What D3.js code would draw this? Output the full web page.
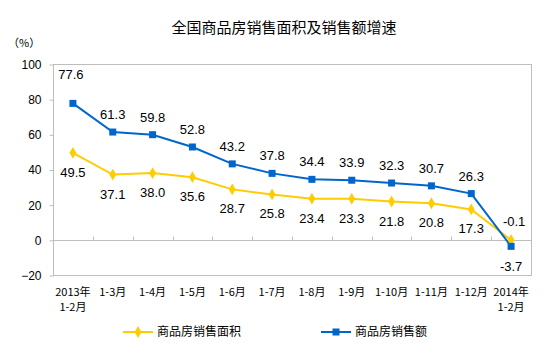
<!DOCTYPE html>
<html>
<head>
<meta charset="utf-8">
<script src="https://cdn.jsdelivr.net/npm/d3@7"></script>
<style>
  body { margin: 0; background: #fff; }
  text { font-family: "Liberation Sans", Arial, "Noto Sans CJK SC", sans-serif; }
  .cjk { font-family: "Noto Sans CJK SC", sans-serif; }
</style>
</head>
<body>
<script>
// data
var CAT_LINE1 = ["2013年", "1-3月", "1-4月", "1-5月", "1-6月", "1-7月",
    "1-8月", "1-9月", "1-10月", "1-11月", "1-12月", "2014年"];
var CAT_LINE2 = ["1-2月", "", "", "", "", "", "", "", "", "", "", "1-2月"];
var AREA = [49.5, 37.1, 38.0, 35.6, 28.7, 25.8, 23.4, 23.3, 21.8, 20.8, 17.3, -0.1];
var SALES = [77.6, 61.3, 59.8, 52.8, 43.2, 37.8, 34.4, 33.9, 32.3, 30.7, 26.3, -3.7];
var Y_TICKS = [-20, 0, 20, 40, 60, 80, 100];

var W = 554, H = 353;
var MARGINS = {top: 64, bottom: 78, left: 53, right: 23};
var YELLOW = "#FFCC00", BLUE = "#0066CC";

var svg = d3.select("body").append("svg")
    .attr("width", W)
    .attr("height", H);

// scales
var xScale = d3.scalePoint()
    .domain(d3.range(CAT_LINE1.length))
    .range([MARGINS.left, W - MARGINS.right])
    .padding(0.5);
var step = xScale.step();

var yScale = d3.scaleLinear()
    .domain([-20, 100])
    .range([H - MARGINS.bottom, MARGINS.top]);

// title
svg.append("text")
    .attr("class", "cjk")
    .attr("x", 284).attr("y", 33)
    .attr("text-anchor", "middle")
    .style("font-size", "15px")
    .text("全国商品房销售面积及销售额增速");

svg.append("text")
    .attr("class", "cjk")
    .attr("x", 8).attr("y", 47)
    .style("font-size", "11px")
    .text("（%）");

// frame
svg.append("rect")
    .attr("x", MARGINS.left + 0.5)
    .attr("y", yScale(100) + 0.5)
    .attr("width", W - MARGINS.left - MARGINS.right)
    .attr("height", yScale(-20) - yScale(100))
    .attr("fill", "none")
    .attr("stroke", "#BDBDBD");

// y axis
var yAxis = d3.axisLeft(yScale).tickValues(Y_TICKS).tickSize(4).tickPadding(8);
var gy = svg.append("g")
    .attr("transform", "translate(" + (MARGINS.left + 0.5) + ",0.5)")
    .call(yAxis);
gy.select(".domain").remove();
gy.selectAll(".tick line").attr("stroke", "#BDBDBD");
gy.selectAll(".tick text")
    .style("font-size", "12px")
    .attr("fill", "#000");

// zero line with category ticks
var y0 = Math.round(yScale(0)) + 0.5;
svg.append("line")
    .attr("x1", MARGINS.left).attr("x2", W - MARGINS.right)
    .attr("y1", y0).attr("y2", y0)
    .attr("stroke", "#BDBDBD");
svg.selectAll(".ctick")
    .data(d3.range(1, CAT_LINE1.length))
    .enter().append("line")
    .attr("x1", function (d) { return Math.round(xScale(d) - step / 2) + 0.5; })
    .attr("x2", function (d) { return Math.round(xScale(d) - step / 2) + 0.5; })
    .attr("y1", y0 - 4).attr("y2", y0)
    .attr("stroke", "#BDBDBD");

// x labels
svg.selectAll(".xlab1")
    .data(CAT_LINE1)
    .enter().append("text")
    .attr("class", "cjk")
    .attr("text-anchor", "middle")
    .style("font-size", "11px")
    .attr("x", function (d, i) { return xScale(i); })
    .attr("y", 296)
    .text(function (d) { return d; });
svg.selectAll(".xlab2")
    .data(CAT_LINE2)
    .enter().append("text")
    .attr("class", "cjk")
    .attr("text-anchor", "middle")
    .style("font-size", "11px")
    .attr("x", function (d, i) { return xScale(i); })
    .attr("y", 311)
    .text(function (d) { return d; });

// lines
var line = d3.line()
    .x(function (d, i) { return xScale(i); })
    .y(function (d) { return yScale(d); });

svg.append("path").datum(AREA)
    .attr("d", line).attr("fill", "none")
    .attr("stroke", YELLOW).attr("stroke-width", 2);
svg.append("path").datum(SALES)
    .attr("d", line).attr("fill", "none")
    .attr("stroke", BLUE).attr("stroke-width", 2);

// markers
var diamond = d3.symbol().type(d3.symbolDiamond).size(40);
svg.selectAll(".dA").data(AREA).enter().append("path")
    .attr("d", diamond)
    .attr("transform", function (d, i) { return "translate(" + xScale(i) + "," + yScale(d) + ")"; })
    .attr("fill", YELLOW);
svg.selectAll(".sB").data(SALES).enter().append("rect")
    .attr("x", function (d, i) { return xScale(i) - 3.5; })
    .attr("y", function (d) { return yScale(d) - 3.5; })
    .attr("width", 7).attr("height", 7)
    .attr("fill", BLUE);

// data labels
var last = CAT_LINE1.length - 1;
svg.selectAll(".lA").data(AREA).enter().append("text")
    .attr("x", function (d, i) { return xScale(i) + (i === last ? 3 : 0); })
    .attr("y", function (d, i) { return yScale(d) + (i === last ? -14 : 24); })
    .attr("text-anchor", "middle")
    .style("font-size", "13px")
    .text(function (d) { return d.toFixed(1); });
svg.selectAll(".lB").data(SALES).enter().append("text")
    .attr("x", function (d, i) { return xScale(i) + (i === 0 ? -2 : 0); })
    .attr("y", function (d, i) { return yScale(d) + (i === last ? 25 : (i === 0 ? -24 : -13)); })
    .attr("text-anchor", "middle")
    .style("font-size", "13px")
    .text(function (d) { return d.toFixed(1); });

// legend
var legend = [
    {name: "商品房销售面积", color: YELLOW, x: 123, mark: "d"},
    {name: "商品房销售额", color: BLUE, x: 321, mark: "s"}
];
var lg = svg.selectAll(".lg").data(legend).enter().append("g")
    .attr("transform", function (d) { return "translate(" + d.x + ",332)"; });
lg.append("line")
    .attr("x1", 0).attr("x2", 30).attr("y1", 0).attr("y2", 0)
    .attr("stroke", function (d) { return d.color; })
    .attr("stroke-width", 2);
lg.filter(function (d) { return d.mark === "d"; }).append("path")
    .attr("d", diamond).attr("transform", "translate(15,0)")
    .attr("fill", function (d) { return d.color; });
lg.filter(function (d) { return d.mark === "s"; }).append("rect")
    .attr("x", 11.5).attr("y", -3.5).attr("width", 7).attr("height", 7)
    .attr("fill", function (d) { return d.color; });
lg.append("text")
    .attr("class", "cjk")
    .attr("x", 34).attr("y", 4)
    .style("font-size", "12px")
    .text(function (d) { return d.name; });
</script>
</body>
</html>
